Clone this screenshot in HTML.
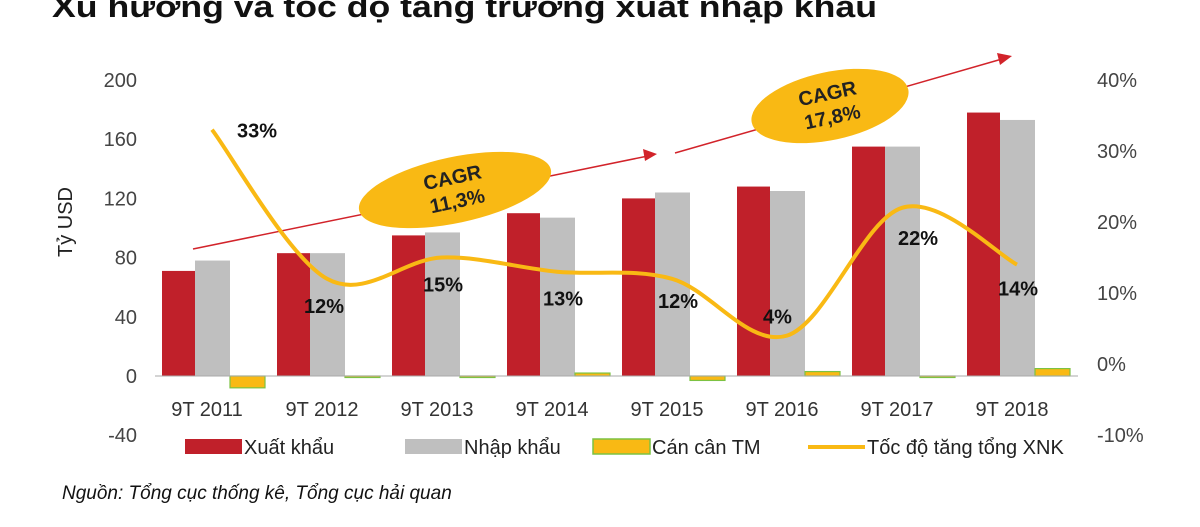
<!DOCTYPE html>
<html><head><meta charset="utf-8"><style>
body{margin:0;background:#fff;width:1200px;height:522px;overflow:hidden;font-family:"Liberation Sans",sans-serif}
svg text{font-family:"Liberation Sans",sans-serif}
</style></head><body>
<svg id="c" width="1200" height="522"></svg>
<script>
const categories=["9T 2011","9T 2012","9T 2013","9T 2014","9T 2015","9T 2016","9T 2017","9T 2018"];
const exportVals=[71,83,95,110,120,128,155,178];
const importVals=[78,83,97,107,124,125,155,173];
const balanceVals=[-8,-1,-1,2,-3,3,-1,5];
const growthVals=[33,12,15,13,12,4,22,14];
const leftTicks=[200,160,120,80,40,0,-40];
const rightTicks=[40,30,20,10,0,-10];
const NS="http://www.w3.org/2000/svg";
const svg=document.getElementById('c');
function el(t,a,txt){const e=document.createElementNS(NS,t);for(const k in a)e.setAttribute(k,a[k]);if(txt!=null)e.textContent=txt;svg.appendChild(e);return e;}
const yL=v=>376-v*1.48;
const yR=v=>364-v*7.1;
const xC=i=>207+i*115;
let t=el('text',{x:52,y:17,'font-size':31,'font-weight':'bold',fill:'#111',textLength:825,lengthAdjust:'spacingAndGlyphs'},'Xu hướng và tốc độ tăng trưởng xuất nhập khẩu');

leftTicks.forEach(v=>{const e=el('text',{x:137,y:yL(v)+7,'font-size':20,fill:'#444','text-anchor':'end'},v);
});
rightTicks.forEach(v=>{const e=el('text',{x:1097,y:yR(v)+7,'font-size':20,fill:'#444'},v+'%');
});
let yt=el('text',{x:0,y:0,'font-size':20,fill:'#222','text-anchor':'middle',transform:'translate(72,222) rotate(-90)'},'Tỷ USD');

el('line',{x1:193,y1:249,x2:648,y2:156,stroke:'#d2232a','stroke-width':1.5});
el('polygon',{points:'657,154 643,149 645,161',fill:'#d2232a'});
el('line',{x1:675,y1:153,x2:1002,y2:59,stroke:'#d2232a','stroke-width':1.5});
el('polygon',{points:'1012,56 997,53 1000,65',fill:'#d2232a'});
categories.forEach((c,i)=>{
 const x0=xC(i)-45;
 let b=el('rect',{x:x0,y:yL(exportVals[i]),width:33,height:yL(0)-yL(exportVals[i]),fill:'#c0202a'});
 
 b=el('rect',{x:x0+33,y:yL(importVals[i]),width:35,height:yL(0)-yL(importVals[i]),fill:'#bfbfbf'});
 
 const bv=balanceVals[i];
 b=el('rect',{x:x0+68,y:Math.min(yL(bv),yL(0)),width:35,height:Math.max(Math.abs(yL(bv)-yL(0)),1.5),fill:'#f9b914',stroke:'#7cc242','stroke-width':1.2});
 
 const l=el('text',{x:xC(i),y:416,'font-size':20,fill:'#333','text-anchor':'middle'},c);
 
});
el('line',{x1:155,y1:376,x2:1078,y2:376,stroke:'#aaa','stroke-width':1});
const pts=growthVals.map((v,i)=>[xC(i)+5,yR(v)]);
let d='M'+pts[0][0]+','+pts[0][1];
for(let i=0;i<pts.length-1;i++){const p0=pts[i-1]||pts[i],p1=pts[i],p2=pts[i+1],p3=pts[i+2]||p2;
 d+=` C${p1[0]+(p2[0]-p0[0])/6},${p1[1]+(p2[1]-p0[1])/6} ${p2[0]-(p3[0]-p1[0])/6},${p2[1]-(p3[1]-p1[1])/6} ${p2[0]},${p2[1]}`;}
let gl=el('path',{d:d,fill:'none',stroke:'#f9b914','stroke-width':4});

const lblOff=[[25,8],[-23,34],[-19,34],[-14,34],[-14,29],[-24,-12],[-4,37],[-19,31]];
growthVals.forEach((v,i)=>{const e=el('text',{x:pts[i][0]+lblOff[i][0],y:pts[i][1]+lblOff[i][1],'font-size':20,'font-weight':'bold',fill:'#111'},v+'%');
});
[[455,190,98,33,-12,'11,3%'],[830,106,80,34,-12,'17,8%']].forEach(a=>{
 const g=el('ellipse',{cx:a[0],cy:a[1],rx:a[2],ry:a[3],fill:'#f9b914',transform:`rotate(${a[4]} ${a[0]} ${a[1]})`});
 
 el('text',{x:a[0],y:a[1]-6,'font-size':20,'font-weight':'bold',fill:'#222','text-anchor':'middle',transform:`rotate(${a[4]} ${a[0]} ${a[1]})`},'CAGR');
 el('text',{x:a[0],y:a[1]+18,'font-size':20,'font-weight':'bold',fill:'#222','text-anchor':'middle',transform:`rotate(${a[4]} ${a[0]} ${a[1]})`},a[5]);
});
const leg=[[185,'rect','#c0202a',null,'Xuất khẩu'],[405,'rect','#bfbfbf',null,'Nhập khẩu'],[593,'rect','#f9b914','#7cc242','Cán cân TM'],[808,'line','#f9b914',null,'Tốc độ tăng tổng XNK']];
leg.forEach(l=>{
 let m;
 if(l[1]==='rect')m=el('rect',{x:l[0],y:439,width:57,height:15,fill:l[2],stroke:l[3]||'none','stroke-width':1.5});
 else m=el('line',{x1:l[0],y1:447,x2:l[0]+57,y2:447,stroke:l[2],'stroke-width':4});
 
 const e=el('text',{x:l[0]+59,y:454,'font-size':20,fill:'#222'},l[4]);
 
});
let s=el('text',{x:62,y:499,'font-size':19,'font-style':'italic',fill:'#111'},'Nguồn: Tổng cục thống kê, Tổng cục hải quan');

</script>
</body></html>
